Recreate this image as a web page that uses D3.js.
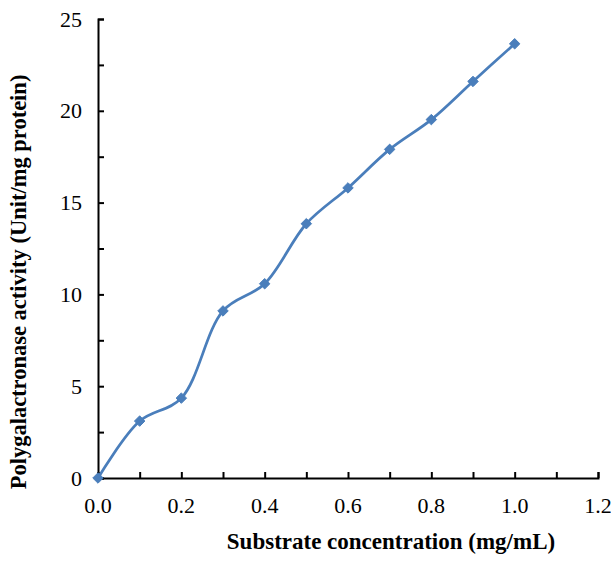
<!DOCTYPE html>
<html>
<head>
<meta charset="utf-8">
<script src="https://cdn.jsdelivr.net/npm/d3@7"></script>
<style>
  body { margin: 0; background: #fff; }
  text { font-family: "Liberation Serif", "Times New Roman", serif; }
</style>
</head>
<body>
<svg id="chart" width="611" height="564"></svg>
<script>
// Substrate concentration (mg/mL)
const concentrations = [0, 0.1, 0.2, 0.3, 0.4, 0.5, 0.6, 0.7, 0.8, 0.9, 1.0];
// Polygalactronase activity (Unit/mg protein)
const activity = [0, 3.1, 4.35, 9.1, 10.58, 13.85, 15.8, 17.9, 19.52, 21.6, 23.65];
const xTicks = [0, 0.2, 0.4, 0.6, 0.8, 1.0, 1.2];
const yTicks = [0, 5, 10, 15, 20, 25];

const svg = d3.select("#chart");
const margin = { left: 98, right: 13, top: 19, bottom: 86 };
const width = 611, height = 564;

const x = d3.scaleLinear().domain([0, 1.2]).range([margin.left, width - margin.right]);
const y = d3.scaleLinear().domain([0, 25]).range([height - margin.bottom, margin.top]);

// minor ticks (inside)
const xMinor = d3.range(0, 1.21, 0.1);
const yMinor = d3.range(0, 25.1, 2.5);

const gx = svg.append("g").attr("transform", "translate(0," + y(0) + ")");
gx.call(d3.axisBottom(x).tickValues(xMinor).tickSize(-6).tickFormat(""));
gx.call(g => g.selectAll("text").remove());
gx.selectAll(".domain, line").attr("stroke", "#000").attr("stroke-width", 2);
gx.selectAll(".xlab").data(xTicks).enter().append("text")
    .attr("class", "xlab")
    .attr("x", d => x(d)).attr("y", 35)
    .attr("text-anchor", "middle").attr("font-size", 22)
    .attr("fill", "#000")
    .text(d => d.toFixed(1));

const gy = svg.append("g").attr("transform", "translate(" + x(0) + ",0)");
gy.call(d3.axisLeft(y).tickValues(yMinor).tickSize(-6).tickFormat(""));
gy.selectAll(".domain, line").attr("stroke", "#000").attr("stroke-width", 2);
gy.selectAll(".ylab").data(yTicks).enter().append("text")
    .attr("class", "ylab")
    .attr("x", -16).attr("y", d => y(d) + 7.5)
    .attr("text-anchor", "end").attr("font-size", 22)
    .attr("fill", "#000")
    .text(d => d);

// smoothed line
const line = d3.line()
    .x((d, i) => x(concentrations[i]))
    .y(d => y(d))
    .curve(d3.curveCatmullRom.alpha(0.5));

svg.append("path")
    .datum(activity)
    .attr("fill", "none")
    .attr("stroke", "#4a7ebb")
    .attr("stroke-width", 2.75)
    .attr("d", line);

svg.selectAll(".pt").data(activity).enter().append("path")
    .attr("class", "pt")
    .attr("transform", (d, i) => "translate(" + x(concentrations[i]) + "," + y(d) + ")")
    .attr("d", d3.symbol(d3.symbolDiamond2, 70))
    .attr("fill", "#4a7ebb")
    .attr("stroke", "#4a7ebb")
    .attr("stroke-width", 1);

// axis titles
svg.append("text")
    .attr("x", 391).attr("y", 549)
    .attr("text-anchor", "middle")
    .attr("font-size", 23).attr("font-weight", "bold")
    .text("Substrate concentration (mg/mL)");

svg.append("text")
    .attr("transform", "translate(26,282) rotate(-90)")
    .attr("text-anchor", "middle")
    .attr("font-size", 22.5).attr("font-weight", "bold")
    .text("Polygalactronase activity (Unit/mg protein)");
</script>
</body>
</html>
